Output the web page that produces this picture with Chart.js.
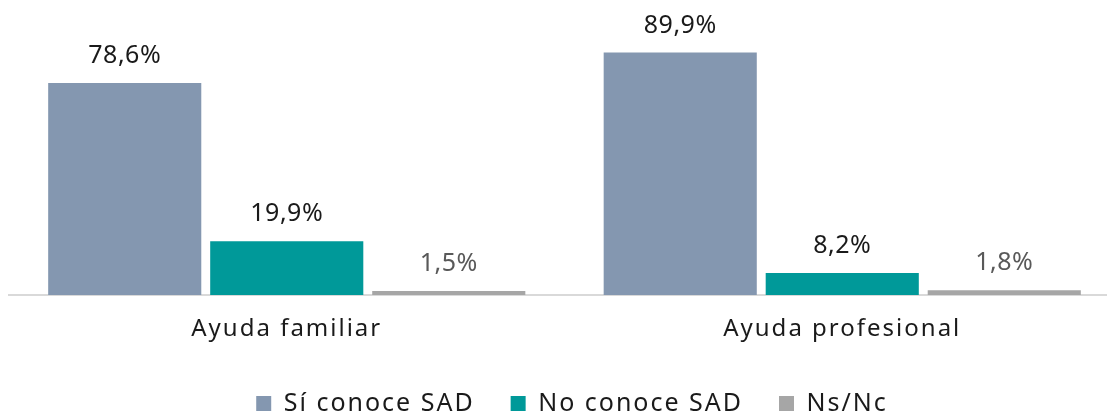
<!DOCTYPE html>
<html>
<head>
<meta charset="utf-8">
<script src="https://cdn.jsdelivr.net/npm/chart.js@4/dist/chart.umd.min.js"></script>
<style>
  html, body { margin: 0; padding: 0; background: #fff; }
  #wrap { width: 1107px; height: 415px; position: relative; }
</style>
</head>
<body>
<div id="wrap"><canvas id="c"></canvas></div>
<script>
var categories = ["Ayuda familiar", "Ayuda profesional"]
var series_names = ["Sí conoce SAD", "No conoce SAD", "Ns/Nc"]
var si_conoce = [78.6, 89.9]
var no_conoce = [19.9, 8.2]
var ns_nc = [1.5, 1.8]
var colors = ["#8497B0", "#009999", "#A6A6A6"]
var label_colors = ["#1a1a1a", "#1a1a1a", "#595959"]

var fontFam = "'Noto Sans', 'DejaVu Sans', sans-serif"
var legendPad = 36

function fmt(v) { return v.toFixed(1).replace(".", ",") + "%" }

// wider text like the original font
var spacing = {
    id: "spacing",
    beforeUpdate: function(chart) { chart.ctx.letterSpacing = "2px" },
    beforeDraw: function(chart) { chart.ctx.letterSpacing = "2px" }
}

// the original plot runs a bit past the right edge; move the boxes by hand
var placeBoxes = {
    id: "placeBoxes",
    afterLayout: function(chart) {
        var xs = chart.scales.x, ys = chart.scales.y, ca = chart.chartArea
        var base = 295, top = 25.3
        var h = xs.bottom - xs.top
        xs.left = 9; xs.right = 1120; xs.width = 1111
        xs.top = base; xs.bottom = base + h
        xs.configure()
        ys.top = top; ys.bottom = base; ys.height = base - top
        ys.configure()
        ca.left = 9; ca.right = 1120; ca.width = 1111
        ca.top = top; ca.bottom = base; ca.height = base - top
        var lg = chart.legend
        var lh = lg.bottom - lg.top
        lg.top = 403.5 - 12.5 - legendPad
        lg.bottom = lg.top + lh
        lg.left += 14; lg.right += 14
    }
}

// draws the value above each bar
var valueLabels = {
    id: "valueLabels",
    afterDatasetsDraw: function(chart) {
        var ctx = chart.ctx
        ctx.save()
        ctx.letterSpacing = "0.5px"
        ctx.font = "25px " + fontFam
        ctx.textAlign = "center"
        ctx.textBaseline = "middle"
        chart.data.datasets.forEach(function(ds, i) {
            var meta = chart.getDatasetMeta(i)
            meta.data.forEach(function(bar, j) {
                ctx.fillStyle = label_colors[i]
                ctx.fillText(fmt(ds.data[j]), bar.x, bar.y - 27)
            })
        })
        ctx.restore()
    }
}

var all_data = [si_conoce, no_conoce, ns_nc]
var datasets = []
for (var i = 0; i < series_names.length; i++) {
    datasets.push({
        label: series_names[i],
        data: all_data[i],
        backgroundColor: colors[i],
        borderWidth: 0,
        categoryPercentage: 0.875,
        barPercentage: 0.945
    })
}

var ctx = document.getElementById("c").getContext("2d")
new Chart(ctx, {
    type: "bar",
    data: { labels: categories, datasets: datasets },
    plugins: [spacing, placeBoxes, valueLabels],
    options: {
        responsive: true,
        maintainAspectRatio: false,
        animation: false,
        layout: { padding: { top: 25, left: 9, right: 0, bottom: 0 } },
        plugins: {
            legend: {
                position: "bottom",
                labels: {
                    boxWidth: 15,
                    boxHeight: 15,
                    padding: legendPad,
                    color: "#1a1a1a",
                    font: { size: 25, family: fontFam }
                }
            },
            tooltip: { enabled: false }
        },
        scales: {
            x: {
                grid: { display: false },
                border: { color: "#d9d9d9", width: 2 },
                ticks: {
                    color: "#1a1a1a",
                    padding: 12,
                    font: { size: 24, family: fontFam }
                }
            },
            y: {
                display: false,
                min: 0,
                max: 100
            }
        }
    }
})
</script>
</body>
</html>
